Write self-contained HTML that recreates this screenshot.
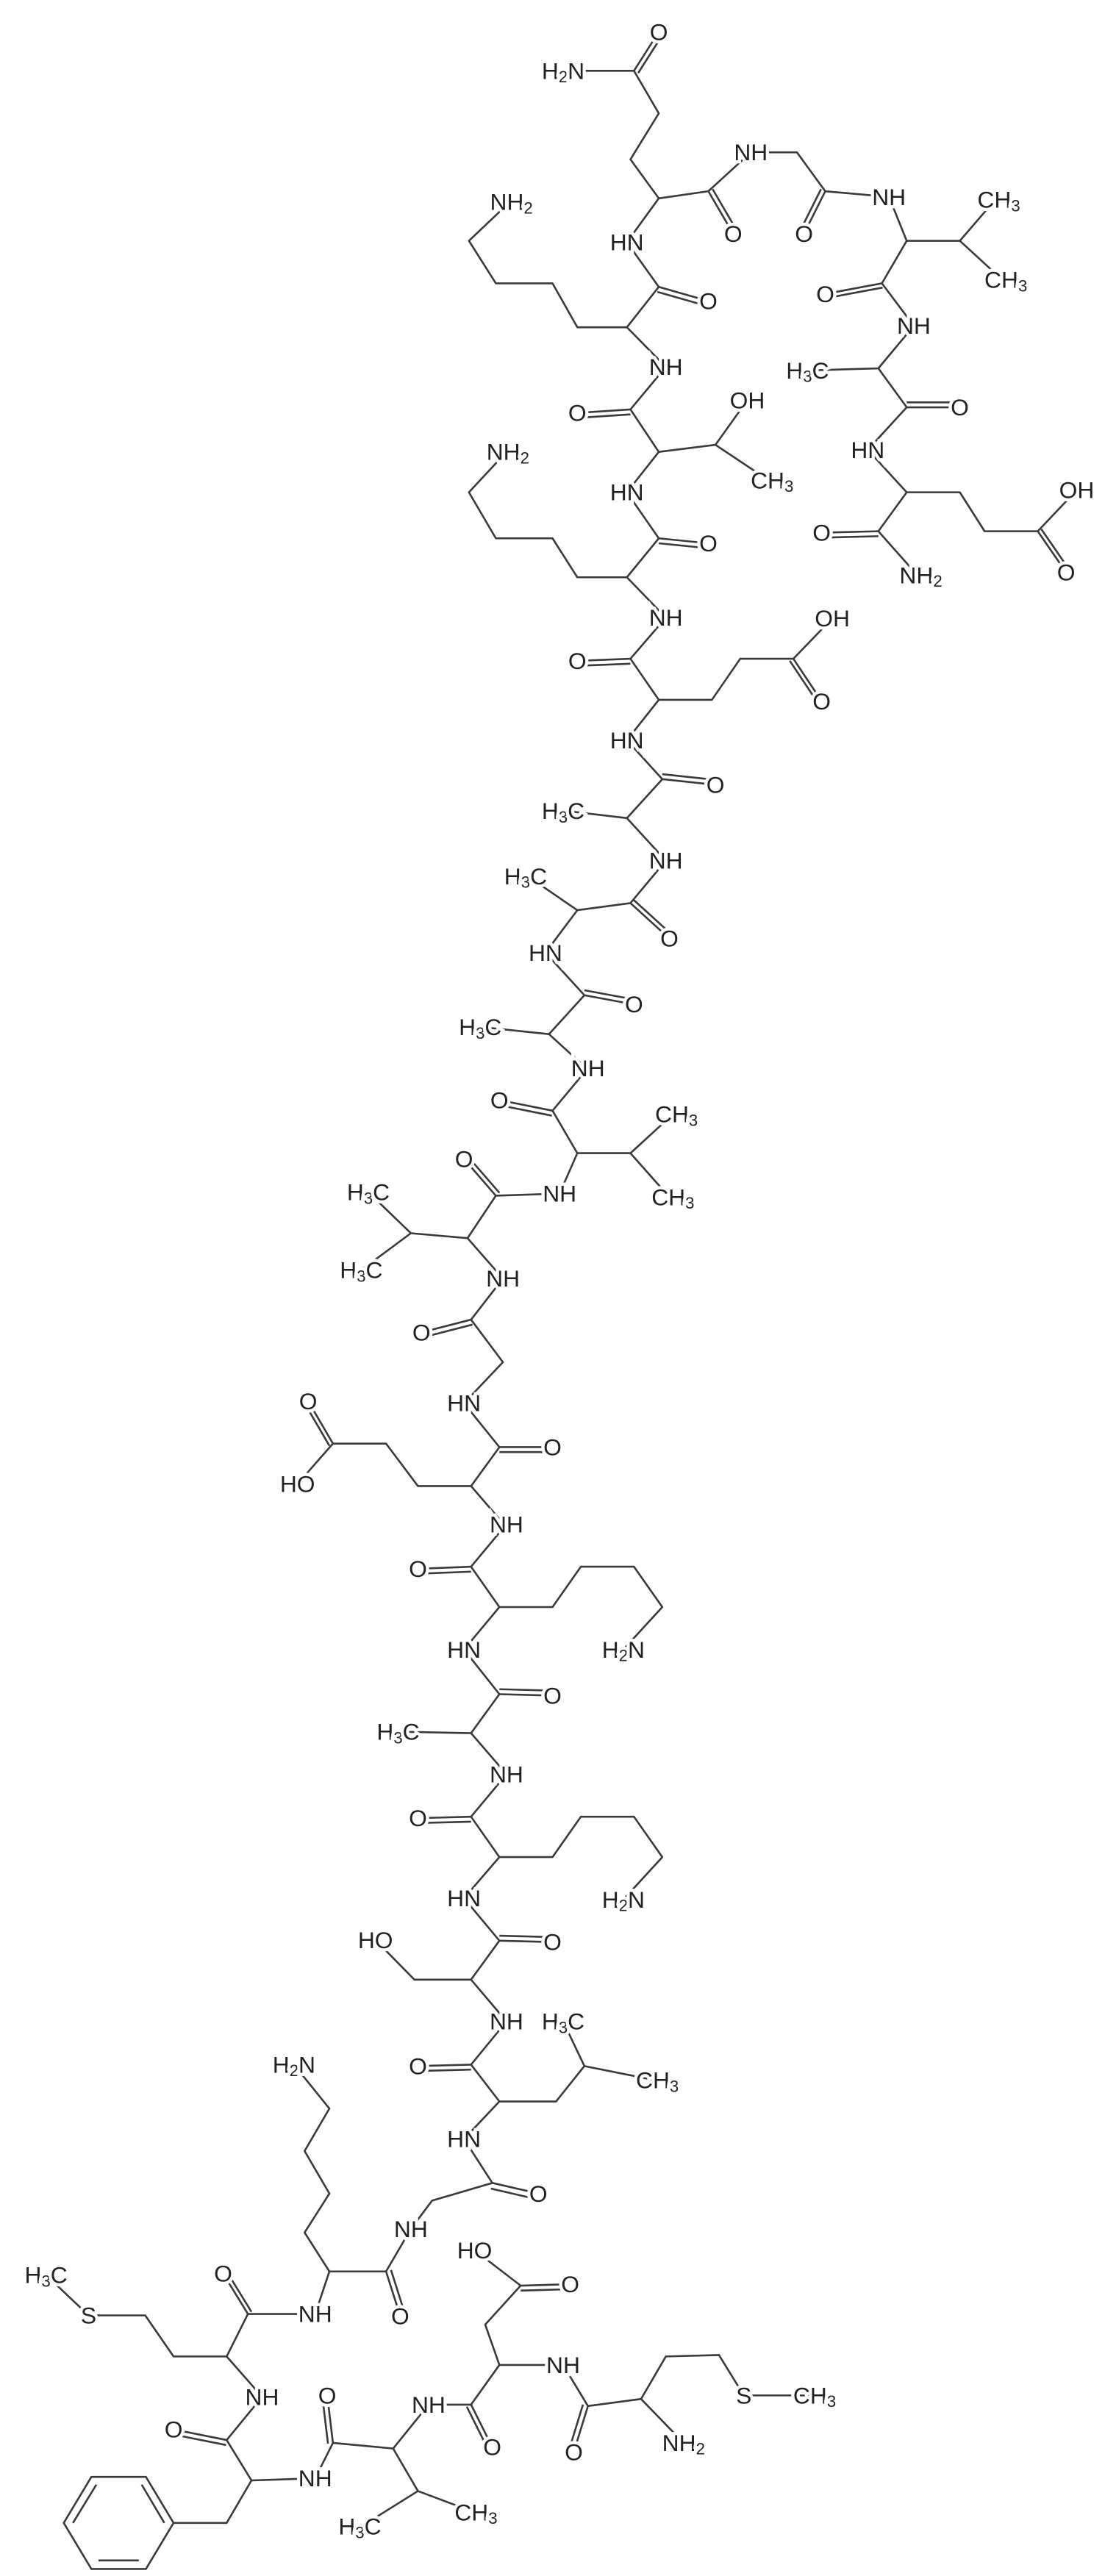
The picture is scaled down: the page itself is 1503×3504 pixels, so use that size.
<!DOCTYPE html>
<html><head><meta charset="utf-8"><style>
html,body{margin:0;padding:0;background:#fff}
svg{display:block}
path,line{stroke:#3a3a3a;stroke-width:2.7;fill:none;stroke-linejoin:round}
circle{fill:#fff;stroke:none}
text{font-family:"Liberation Sans",sans-serif;font-size:33px;fill:#222;stroke:#fff;stroke-width:9px;paint-order:stroke;text-anchor:middle;dominant-baseline:central}
</style></head><body>
<svg width="1503" height="3504" viewBox="0 0 1503 3504" xmlns="http://www.w3.org/2000/svg">
<g transform="scale(0.9635)">
<path d="M895,100 L795,100"/>
<path d="M895,100 L930,160 L890,225 L930,280 L1000,270 L1060,215 L1125,215 L1165,270 L1255,278 L1280,340 L1355,340 L1405,282"/>
<path d="M1355,340 L1415,395"/>
<path d="M1280,340 L1245,400 L1290,460 L1240,520 L1140,523"/>
<path d="M1240,520 L1280,575 L1225,635 L1280,695 L1355,695 L1390,750 L1465,750 L1520,692"/>
<path d="M1280,695 L1240,750 L1295,812"/>
<path d="M930,280 L885,342 L930,405 L885,462 L815,462 L780,400 L700,400 L662,340 L720,285"/>
<path d="M885,462 L940,518 L890,578 L930,638 L1010,628 L1055,565"/>
<path d="M1010,628 L1085,678"/>
<path d="M930,638 L885,695 L930,760 L885,815 L815,815 L780,760 L700,760 L662,695 L715,638"/>
<path d="M885,815 L940,872 L890,930 L930,988 L1005,988 L1045,930 L1120,930 L1175,873"/>
<path d="M930,988 L885,1045 L935,1100 L885,1155 L800,1145"/>
<path d="M885,1155 L940,1215 L890,1275 L815,1285 L745,1237"/>
<path d="M815,1285 L770,1345 L825,1405 L775,1460 L680,1450"/>
<path d="M775,1460 L830,1510"/>
<path d="M895,100 L930,45 M901,103 L936,48"/>
<path d="M1000,270 L1035,330 M1006,267 L1041,327"/>
<path d="M1165,270 L1135,330 M1159,267 L1129,327"/>
<path d="M1245,400 L1165,415 M1246,406 L1166,421"/>
<path d="M1280,575 L1355,575 M1280,568 L1355,568"/>
<path d="M1465,750 L1505,808 M1470,747 L1510,805"/>
<path d="M1240,750 L1160,752 M1240,757 L1160,759"/>
<path d="M930,405 L1000,425 M928,412 L998,432"/>
<path d="M890,578 L815,583 M890,585 L815,590"/>
<path d="M930,760 L1000,767 M930,767 L1000,774"/>
<path d="M890,930 L815,933 M890,937 L815,940"/>
<path d="M1120,930 L1160,990 M1115,933 L1155,993"/>
<path d="M935,1100 L1010,1108 M935,1093 L1010,1101"/>
<path d="M890,1275 L945,1325 M894,1270 L949,1320"/>
<path d="M825,1405 L895,1418 M825,1398 L895,1411"/>
<circle cx="930" cy="45" r="15"/><circle cx="1035" cy="330" r="15"/><circle cx="1135" cy="330" r="15"/><circle cx="1165" cy="415" r="15"/><circle cx="1355" cy="575" r="15"/><circle cx="1505" cy="808" r="15"/><circle cx="1160" cy="752" r="15"/><circle cx="1000" cy="425" r="15"/><circle cx="815" cy="583" r="15"/><circle cx="1000" cy="767" r="15"/><circle cx="815" cy="933" r="15"/><circle cx="1160" cy="990" r="15"/><circle cx="1010" cy="1108" r="15"/><circle cx="945" cy="1325" r="15"/><circle cx="895" cy="1418" r="15"/>
<text x="930" y="45">O</text>
<text x="795" y="100">H<tspan font-size="23" dy="8">2</tspan><tspan dy="-8">N</tspan></text>
<text x="1060" y="215">NH</text>
<text x="1035" y="330">O</text>
<text x="1135" y="330">O</text>
<text x="1255" y="278">NH</text>
<text x="1410" y="282">CH<tspan font-size="23" dy="8">3</tspan></text>
<text x="1420" y="395">CH<tspan font-size="23" dy="8">3</tspan></text>
<text x="1165" y="415">O</text>
<text x="1290" y="460">NH</text>
<text x="1140" y="523">H<tspan font-size="23" dy="8">3</tspan><tspan dy="-8">C</tspan></text>
<text x="1355" y="575">O</text>
<text x="1225" y="635">HN</text>
<text x="1520" y="692">OH</text>
<text x="1505" y="808">O</text>
<text x="1160" y="752">O</text>
<text x="1300" y="812">NH<tspan font-size="23" dy="8">2</tspan></text>
<text x="885" y="342">HN</text>
<text x="1000" y="425">O</text>
<text x="722" y="285">NH<tspan font-size="23" dy="8">2</tspan></text>
<text x="940" y="518">NH</text>
<text x="815" y="583">O</text>
<text x="1055" y="565">OH</text>
<text x="1090" y="678">CH<tspan font-size="23" dy="8">3</tspan></text>
<text x="885" y="695">HN</text>
<text x="1000" y="767">O</text>
<text x="717" y="638">NH<tspan font-size="23" dy="8">2</tspan></text>
<text x="940" y="872">NH</text>
<text x="815" y="933">O</text>
<text x="1175" y="873">OH</text>
<text x="1160" y="990">O</text>
<text x="885" y="1045">HN</text>
<text x="1010" y="1108">O</text>
<text x="795" y="1145">H<tspan font-size="23" dy="8">3</tspan><tspan dy="-8">C</tspan></text>
<text x="940" y="1215">NH</text>
<text x="945" y="1325">O</text>
<text x="742" y="1237">H<tspan font-size="23" dy="8">3</tspan><tspan dy="-8">C</tspan></text>
<text x="770" y="1345">HN</text>
<text x="895" y="1418">O</text>
<text x="678" y="1450">H<tspan font-size="23" dy="8">3</tspan><tspan dy="-8">C</tspan></text>
</g>

<g transform="translate(0,1400) scale(0.9635)">
<path d="M830,55 L780,115 L815,175 L890,175 L950,120"/>
<path d="M890,175 L945,237"/>
<path d="M815,175 L790,232 L700,235 L660,295 L580,288 L520,230"/>
<path d="M580,288 L510,340"/>
<path d="M660,295 L710,352 L665,410 L710,470 L655,528 L705,590 L665,645 L590,645 L545,585 L470,585 L420,642"/>
<path d="M665,645 L715,703"/>
<path d="M780,115 L705,100 M779,122 L704,107"/>
<path d="M700,235 L655,183 M705,231 L660,179"/>
<path d="M665,410 L595,428 M667,417 L597,435"/>
<path d="M705,590 L780,590 M705,597 L780,597"/>
<path d="M470,585 L435,525 M465,588 L430,528"/>
<circle cx="705" cy="100" r="15"/><circle cx="655" cy="183" r="15"/><circle cx="595" cy="428" r="15"/><circle cx="780" cy="590" r="15"/><circle cx="435" cy="525" r="15"/>
<text x="830" y="55">NH</text>
<text x="705" y="100">O</text>
<text x="955" y="120">CH<tspan font-size="23" dy="8">3</tspan></text>
<text x="950" y="237">CH<tspan font-size="23" dy="8">3</tspan></text>
<text x="655" y="183">O</text>
<text x="790" y="232">NH</text>
<text x="520" y="230">H<tspan font-size="23" dy="8">3</tspan><tspan dy="-8">C</tspan></text>
<text x="510" y="340">H<tspan font-size="23" dy="8">3</tspan><tspan dy="-8">C</tspan></text>
<text x="710" y="352">NH</text>
<text x="595" y="428">O</text>
<text x="655" y="528">HN</text>
<text x="780" y="590">O</text>
<text x="435" y="525">O</text>
<text x="420" y="642">HO</text>
</g>

<g transform="translate(0,2001) scale(0.9635)">
<path d="M715,75 L665,135 L705,192 L780,192 L820,135 L895,135 L935,192 L880,252"/>
<path d="M705,192 L655,252 L705,315 L665,370 L565,368"/>
<path d="M665,370 L715,428 L665,488 L705,545 L780,545 L820,488 L895,488 L935,545 L880,605"/>
<path d="M705,545 L655,603 L705,663 L665,718 L585,718 L530,662"/>
<path d="M665,718 L715,777 L665,838 L705,890 L785,890 L825,840 L795,777"/>
<path d="M825,840 L925,860"/>
<path d="M705,890 L655,943 L695,1005 L610,1030 L580,1070 L545,1130 L465,1130 L430,1075 L465,1020 L430,960 L465,900 L415,838"/>
<path d="M465,1130 L445,1190 L350,1190 L320,1250 L245,1250 L205,1192 L125,1192 L65,1135"/>
<path d="M320,1250 L370,1307 L320,1368 L355,1425 L320,1485 L245,1485"/>
<path d="M355,1425 L445,1422 L470,1372 L555,1380 L590,1440 L510,1490"/>
<path d="M590,1440 L670,1470"/>
<path d="M555,1380 L605,1318 L665,1318 L705,1262 L685,1205 L735,1150 L670,1100"/>
<path d="M705,1262 L795,1262 L830,1320 L905,1310 L965,1372"/>
<path d="M905,1310 L940,1250 L1015,1248 L1050,1305 L1150,1305"/>
<path d="M665,135 L590,138 M665,142 L590,145"/>
<path d="M705,315 L780,317 M705,308 L780,310"/>
<path d="M665,488 L590,490 M665,495 L590,497"/>
<path d="M705,663 L780,665 M705,656 L780,658"/>
<path d="M665,838 L590,840 M665,845 L590,847"/>
<path d="M695,1005 L760,1020 M693,1013 L758,1028"/>
<path d="M545,1130 L565,1193 M552,1128 L572,1191"/>
<path d="M350,1190 L315,1133 M355,1187 L320,1130"/>
<path d="M320,1368 L245,1353 M319,1375 L244,1360"/>
<path d="M470,1372 L462,1305 M463,1373 L455,1306"/>
<path d="M665,1318 L695,1378 M659,1321 L689,1381"/>
<path d="M735,1150 L805,1148 M735,1157 L805,1155"/>
<path d="M830,1320 L810,1385 M823,1318 L803,1383"/>
<path d="M245,1485 L206,1550 L129,1550 L90,1485 L129,1420 L206,1420 Z"/>
<path d="M196,1538 L139,1538 M103,1485 L136,1431 M200,1431 L232,1485"/>
<circle cx="590" cy="138" r="15"/><circle cx="780" cy="317" r="15"/><circle cx="590" cy="490" r="15"/><circle cx="780" cy="665" r="15"/><circle cx="590" cy="840" r="15"/><circle cx="760" cy="1020" r="15"/><circle cx="565" cy="1193" r="15"/><circle cx="315" cy="1133" r="15"/><circle cx="245" cy="1353" r="15"/><circle cx="462" cy="1305" r="15"/><circle cx="695" cy="1378" r="15"/><circle cx="805" cy="1148" r="15"/><circle cx="810" cy="1385" r="15"/>
<text x="715" y="75">NH</text>
<text x="590" y="138">O</text>
<text x="880" y="252">H<tspan font-size="23" dy="8">2</tspan><tspan dy="-8">N</tspan></text>
<text x="655" y="252">HN</text>
<text x="780" y="317">O</text>
<text x="562" y="368">H<tspan font-size="23" dy="8">3</tspan><tspan dy="-8">C</tspan></text>
<text x="715" y="428">NH</text>
<text x="590" y="490">O</text>
<text x="880" y="605">H<tspan font-size="23" dy="8">2</tspan><tspan dy="-8">N</tspan></text>
<text x="655" y="603">HN</text>
<text x="780" y="665">O</text>
<text x="530" y="662">HO</text>
<text x="715" y="777">NH</text>
<text x="795" y="777">H<tspan font-size="23" dy="8">3</tspan><tspan dy="-8">C</tspan></text>
<text x="590" y="840">O</text>
<text x="928" y="860">CH<tspan font-size="23" dy="8">3</tspan></text>
<text x="655" y="943">HN</text>
<text x="760" y="1020">O</text>
<text x="580" y="1070">NH</text>
<text x="565" y="1193">O</text>
<text x="415" y="838">H<tspan font-size="23" dy="8">2</tspan><tspan dy="-8">N</tspan></text>
<text x="445" y="1190">NH</text>
<text x="315" y="1133">O</text>
<text x="125" y="1192">S</text>
<text x="65" y="1135">H<tspan font-size="23" dy="8">3</tspan><tspan dy="-8">C</tspan></text>
<text x="370" y="1307">NH</text>
<text x="245" y="1353">O</text>
<text x="445" y="1422">NH</text>
<text x="462" y="1305">O</text>
<text x="508" y="1490">H<tspan font-size="23" dy="8">3</tspan><tspan dy="-8">C</tspan></text>
<text x="672" y="1470">CH<tspan font-size="23" dy="8">3</tspan></text>
<text x="605" y="1318">NH</text>
<text x="695" y="1378">O</text>
<text x="670" y="1100">HO</text>
<text x="805" y="1148">O</text>
<text x="795" y="1262">NH</text>
<text x="810" y="1385">O</text>
<text x="965" y="1372">NH<tspan font-size="23" dy="8">2</tspan></text>
<text x="1050" y="1305">S</text>
<text x="1150" y="1305">CH<tspan font-size="23" dy="8">3</tspan></text>
</g>
</svg>
</body></html>
